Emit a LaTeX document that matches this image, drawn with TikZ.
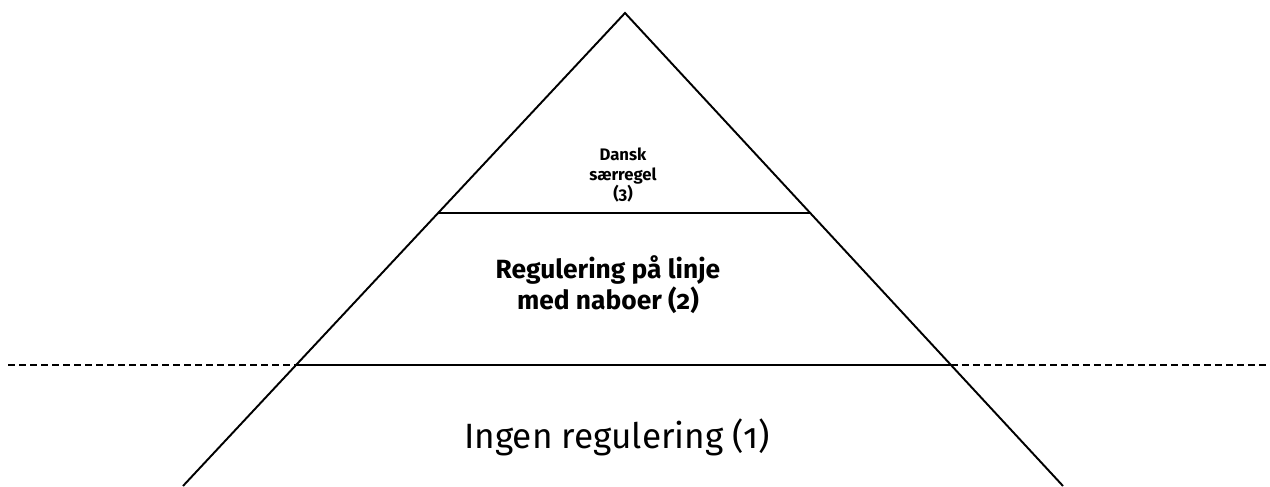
\documentclass[tikz,border=0pt]{standalone}
\usepackage{fontspec}
\setmainfont[Numbers=OldStyle]{Fira Sans}
\usetikzlibrary{calc}

\begin{document}
\begin{tikzpicture}
	\useasboundingbox (0,0) rectangle (25.4,9.72);
	\coordinate (apex) at (12.5,9.46);
	\coordinate (bl) at (3.66,0);
	\coordinate (br) at (21.26,0);
	\coordinate (ul) at ($(apex)!0.423!(bl)$);
	\coordinate (ur) at ($(apex)!0.423!(br)$);
	\coordinate (ml) at ($(apex)!0.744!(bl)$);
	\coordinate (mr) at ($(apex)!0.744!(br)$);
	\coordinate (dl) at (0.16,0 |- ml);
	\coordinate (dr) at (25.4,0 |- mr);
	
	\draw[line width=1.1pt] (bl) -- (apex) -- (br);
	\draw[line width=1.3pt] (ul) -- (ur);
	\draw[line width=1.3pt] (ml) -- (mr);
	\draw[line width=0.9pt,dash pattern=on 0.14cm off 0.08cm] (dl) -- (ml);
	\draw[line width=0.9pt,dash pattern=on 0.14cm off 0.08cm] (mr) -- (dr);
	
	\node[align=center,font=\fontsize{9.5}{11}\selectfont\bfseries] (dansk) at (12.46,6.22) {Dansk\\særregel\\(3)};
	\node[align=center,font=\fontsize{15}{17.5}\selectfont\bfseries] (naboer) at (12.16,4.02) {Regulering på linje\\med naboer (2)};
	\node[font=\fontsize{20}{24}\selectfont] (ingen) at (12.34,0.98) {Ingen regulering (1)};
\end{tikzpicture}
\end{document}
